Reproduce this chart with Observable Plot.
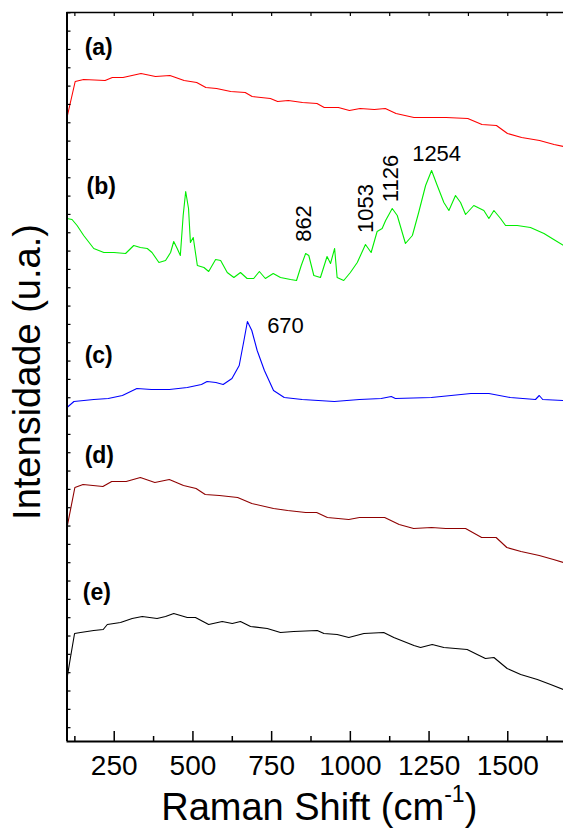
<!DOCTYPE html>
<html>
<head>
<meta charset="utf-8">
<script src="https://cdn.jsdelivr.net/npm/d3@7"></script>
<script src="https://cdn.jsdelivr.net/npm/@observablehq/plot@0.6"></script>
<style>
  html, body { margin: 0; padding: 0; background: #fff; overflow: hidden; }
  #chart svg { display: block; }
</style>
</head>
<body>
<div id="chart"></div>
<script>
// ---- Data (Raman shift cm-1, intensity in arbitrary units) ----
const specA = [[100,627],[126,663],[153,665],[221,664],[244,667],[278,667],[335,671],[381,668],[427,669],[472,664],[512,662],[541,657],[575,656],[620,653],[666,652],[688,648],[746,646],[769,643],[803,644],[848,642],[894,641],[917,637],[962,637],[997,634],[1031,636],[1076,635],[1111,636],[1145,631],[1202,627],[1259,627],[1304,627],[1373,626],[1418,620],[1464,619],[1499,611],[1544,607],[1601,604],[1647,600],[1677,598]];
const specB = [[100,526],[116,525],[132,519],[153,509],[185,496],[217,492],[249,492],[286,491],[312,499],[333,497],[355,496],[370,492],[392,482],[413,484],[429,492],[439,503],[450,496],[460,489],[469,529],[477,553],[486,536],[492,502],[501,507],[514,479],[535,477],[550,473],[572,485],[588,484],[609,472],[630,467],[651,472],[672,466],[693,466],[711,473],[730,466],[755,471],[778,467],[810,465],[829,464],[844,479],[858,491],[868,489],[884,469],[905,467],[926,488],[937,481],[950,496],[958,467],[979,464],[1000,472],[1022,482],[1048,500],[1066,492],[1085,513],[1101,516],[1112,524],[1133,536],[1149,529],[1175,501],[1197,509],[1217,532],[1239,559],[1258,574],[1276,559],[1297,542],[1313,534],[1334,549],[1350,542],[1366,530],[1392,539],[1424,534],[1440,526],[1456,534],[1477,526],[1493,519],[1530,519],[1572,517],[1615,511],[1646,505],[1677,499]];
const specC = [[100,337],[122,343],[185,345],[231,346],[276,349],[322,356],[368,355],[425,355],[482,357],[527,360],[545,363],[573,362],[596,360],[624,366],[647,379],[662,404],[673,423],[687,414],[704,394],[727,374],[756,354],[790,347],[847,345],[949,343],[1029,345],[1098,346],[1130,348],[1143,346],[1257,347],[1383,351],[1440,351],[1508,347],[1588,345],[1600,349],[1611,345],[1677,344]];
const specD = [[100,217],[125,257],[151,260],[214,258],[242,263],[288,263],[333,267],[379,262],[425,265],[470,259],[510,256],[539,250],[584,249],[642,247],[687,241],[756,236],[801,234],[858,232],[893,232],[927,227],[995,225],[1029,227],[1109,227],[1155,220],[1201,216],[1258,217],[1303,216],[1366,216],[1417,207],[1463,207],[1497,197],[1542,193],[1600,189],[1645,185],[1677,182]];
const specE = [[100,66],[111,87],[124,111],[143,112],[185,114],[215,115],[228,120],[270,122],[307,126],[339,128],[386,126],[413,128],[439,131],[482,127],[508,127],[550,120],[593,123],[625,121],[651,123],[683,118],[736,116],[778,112],[820,113],[895,114],[916,111],[958,110],[995,107],[1043,111],[1106,112],[1138,107],[1202,99],[1223,97],[1260,100],[1297,97],[1371,95],[1403,90],[1429,86],[1456,87],[1498,76],[1541,70],[1594,65],[1636,60],[1677,55]];

const seriesNames  = ["a", "b", "c", "d", "e"];
const seriesColors = ["#ff0000", "#00ee00", "#0000ff", "#8f0000", "#000000"];
const seriesLabels = [["(a)",156,697],["(b)",162,558],["(c)",156,389],["(d)",156,289],["(e)",150,152]];
const peakLabels   = [["862",854,521,-90],["1053",1048,536,-90],["1126",1128,566,-90],["1254",1274,591,0],["670",794,419,0]];

const xMajorTicks = [250, 500, 750, 1000, 1250, 1500];
const xMinorTicks = [125, 375, 625, 875, 1125, 1375, 1625];
const xDomain = [100, 1677];
const yDomain = [3, 732];
const yTicks = d3.range(40).map(i => 731.7 - 18.33 * i);

// ---- Build table ----
const specs = [specA, specB, specC, specD, specE];
const rows = specs.flatMap((s, i) => s.map(([x, y]) => ({series: seriesNames[i], x, y})));

const W = 563, H = 828;
const mL = 66.5, mR = 0, mT = 12, mB = 87;
const frameH = H - mT - mB, frameW = W - mL - mR;

const svg = Plot.plot({
  width: W, height: H,
  marginLeft: mL, marginRight: mR, marginTop: mT, marginBottom: mB,
  style: {fontFamily: "'Liberation Sans', Arial, sans-serif", background: "#fff", color: "#000", overflow: "hidden"},
  x: {domain: xDomain, axis: null},
  y: {domain: yDomain, axis: null},
  color: {domain: seriesNames, range: seriesColors},
  marks: [
    Plot.line(rows, {x: "x", y: "y", z: "series", stroke: "series", strokeWidth: 1.1}),
    // frame
    Plot.ruleX([xDomain[0]], {stroke: "#000", strokeWidth: 2}),
    Plot.ruleY([yDomain[0]], {stroke: "#000", strokeWidth: 2}),
    Plot.ruleY([yDomain[1]], {stroke: "#000", strokeWidth: 1.6}),
    // bottom ticks (inward)
    Plot.tickX(xMajorTicks, {x: d => d, insetTop: frameH - 10, stroke: "#000", strokeWidth: 1.5}),
    Plot.tickX(xMinorTicks, {x: d => d, insetTop: frameH - 5, stroke: "#000", strokeWidth: 1.5}),
    // top ticks
    Plot.tickX([...xMajorTicks, ...xMinorTicks], {x: d => d, insetBottom: frameH - 4, stroke: "#000", strokeWidth: 1.2}),
    // left ticks
    Plot.tickY(yTicks, {y: d => d, insetRight: frameW - 4, stroke: "#000", strokeWidth: 1.2}),
    // tick labels
    Plot.text(xMajorTicks, {x: d => d, text: d => String(d), frameAnchor: "bottom", lineAnchor: "middle", textAnchor: "middle", dy: 24.5, fontSize: 28, fill: "#000"}),
    // series labels
    Plot.text(seriesLabels, {x: d => d[1], y: d => d[2], text: d => d[0], textAnchor: "start", fontSize: 23, fontWeight: "bold", fill: "#000"}),
    // peak labels
    Plot.text(peakLabels.filter(d => d[3] !== 0), {x: d => d[1], y: d => d[2], text: d => d[0], rotate: -90, fontSize: 22, fill: "#000"}),
    Plot.text(peakLabels.filter(d => d[3] === 0), {x: d => d[1], y: d => d[2], text: d => d[0], fontSize: 22, fill: "#000"}),
    // axis titles
    Plot.text(["Raman Shift (cm-1)"], {frameAnchor: "bottom", lineAnchor: "middle", textAnchor: "middle", text: d => d, dx: 4, dy: 66, fontSize: 38, fill: "#000"}),
    Plot.text(["Intensidade (u.a.)"], {frameAnchor: "left", lineAnchor: "middle", textAnchor: "middle", text: d => d, rotate: -90, dx: -39, dy: -5, fontSize: 38, fill: "#000"})
  ]
});

// superscript in x-axis title
d3.select(svg).selectAll("text").each(function() {
  if (this.textContent === "Raman Shift (cm-1)") {
    this.innerHTML = 'Raman Shift (cm<tspan dy="-18" font-size="23">-1</tspan><tspan dy="18">)</tspan>';
  }
});

document.getElementById("chart").appendChild(svg);
</script>
</body>
</html>
